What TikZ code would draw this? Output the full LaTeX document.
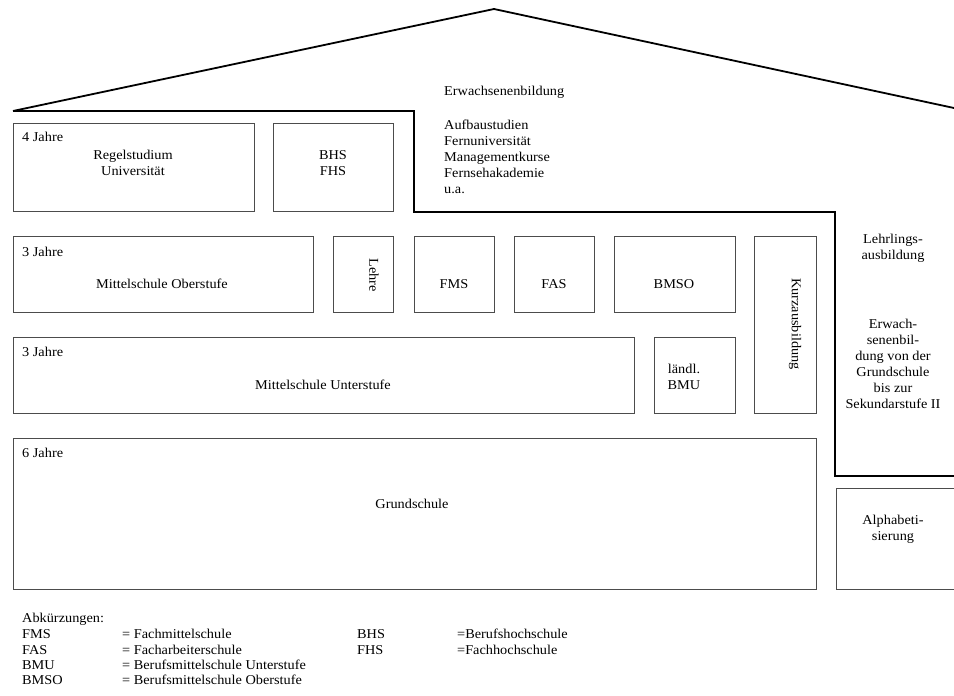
\documentclass[tikz,border=0pt]{standalone}
\usepackage{fontspec}
\setmainfont[FakeStretch=1.06]{Liberation Serif}

\tikzset{
  schule/.style={draw=black!70, line width=0.8pt, anchor=north west, inner sep=0pt, outer sep=0pt},
  schrift/.style={font=\fontsize{13.5}{16}\selectfont, inner sep=0pt, align=center},
  links/.style={schrift, anchor=west, align=left},
  dick/.style={line width=1.8pt, line join=miter},
}

\begin{document}
\begin{tikzpicture}[x=1pt,y=-1pt]
\useasboundingbox (0,0) rectangle (954,696);

%roof and border of the Erwachsenenbildung
\coordinate (dachl) at (13,111);
\coordinate (first) at (494,9);
\coordinate (dachr) at (954,108);
\draw[dick] (dachl) -- (first) -- (dachr);
\draw[dick] (dachl) -- (414,111) -- (414,212) -- (835,212) -- (835,476) -- (954,476);

%boxes
\node[schule, minimum width=241, minimum height=88] (regel) at (13,123) {};  %Universitaet
\node[schule, minimum width=120, minimum height=88] (bhs)   at (273,123) {}; %BHS FHS
\node[schule, minimum width=300, minimum height=76] (mito)  at (13,236) {};  %Oberstufe
\node[schule, minimum width=60,  minimum height=76] (lehre) at (333,236) {};
\node[schule, minimum width=80,  minimum height=76] (fms)   at (414,236) {};
\node[schule, minimum width=80,  minimum height=76] (fas)   at (514,236) {};
\node[schule, minimum width=121, minimum height=76] (bmso)  at (614,236) {};
\node[schule, minimum width=62,  minimum height=177] (kurz) at (754,236) {};
\node[schule, minimum width=621, minimum height=76] (mitu)  at (13,337) {};  %Unterstufe
\node[schule, minimum width=81,  minimum height=76] (bmu)   at (654,337) {};
\node[schule, minimum width=803, minimum height=151] (grund) at (13,438) {}; %Grundschule
\node[schule, minimum width=124, minimum height=101] (alpha) at (836,488) {};

%texts
\node[links]  (t4j)    at (22,137)  {4 Jahre};
\node[schrift] (tregel) at (133,163) {Regelstudium\\Universität};
\node[schrift] (tbhs)   at (333,163) {BHS\\FHS};
\node[links]  (terw)   at (444,92)  {Erwachsenenbildung};
\node[links]  (tliste) at (444,157) {Aufbaustudien\\Fernuniversität\\Managementkurse\\Fernsehakademie\\u.a.};
\node[links]  (t3ja)   at (22,252)  {3 Jahre};
\node[schrift] (tmito)  at (162,284) {Mittelschule Oberstufe};
\node[schrift, rotate=-90] (tlehre) at (374,275) {Lehre};
\node[schrift] (tfms)   at (454,284) {FMS};
\node[schrift] (tfas)   at (554,284) {FAS};
\node[schrift] (tbmso)  at (674,284) {BMSO};
\node[schrift, rotate=-90] (tkurz) at (795,324) {Kurzausbildung};
\node[links]  (t3jb)   at (22,352)  {3 Jahre};
\node[schrift] (tmitu)  at (323,385) {Mittelschule Unterstufe};
\node[schrift] (tbmu)   at (684,377) {ländl.\\BMU};
\node[links]  (t6j)    at (22,453)  {6 Jahre};
\node[schrift] (tgrund) at (412,504) {Grundschule};
\node[schrift] (tlehrl) at (893,248) {Lehrlings-\\ausbildung};
\node[schrift] (terwach) at (893,364) {Erwach-\\senenbil-\\dung von der\\Grundschule\\bis zur\\Sekundarstufe II};
\node[schrift] (talpha) at (893,529) {Alphabeti-\\sierung};

%legend
\node[links] (abk)   at (22,619)  {Abkürzungen:};
\node[links] (lfms)  at (22,634)  {FMS};  \node[links] (efms)  at (122,634) {= Fachmittelschule};
\node[links] (lfas)  at (22,650)  {FAS};  \node[links] (efas)  at (122,650) {= Facharbeiterschule};
\node[links] (lbmu)  at (22,665)  {BMU};  \node[links] (ebmu)  at (122,665) {= Berufsmittelschule Unterstufe};
\node[links] (lbmso) at (22,680)  {BMSO}; \node[links] (ebmso) at (122,680) {= Berufsmittelschule Oberstufe};
\node[links] (lbhs)  at (357,634) {BHS};  \node[links] (ebhs)  at (457,634) {=Berufshochschule};
\node[links] (lfhs)  at (357,650) {FHS};  \node[links] (efhs)  at (457,650) {=Fachhochschule};
\end{tikzpicture}
\end{document}
